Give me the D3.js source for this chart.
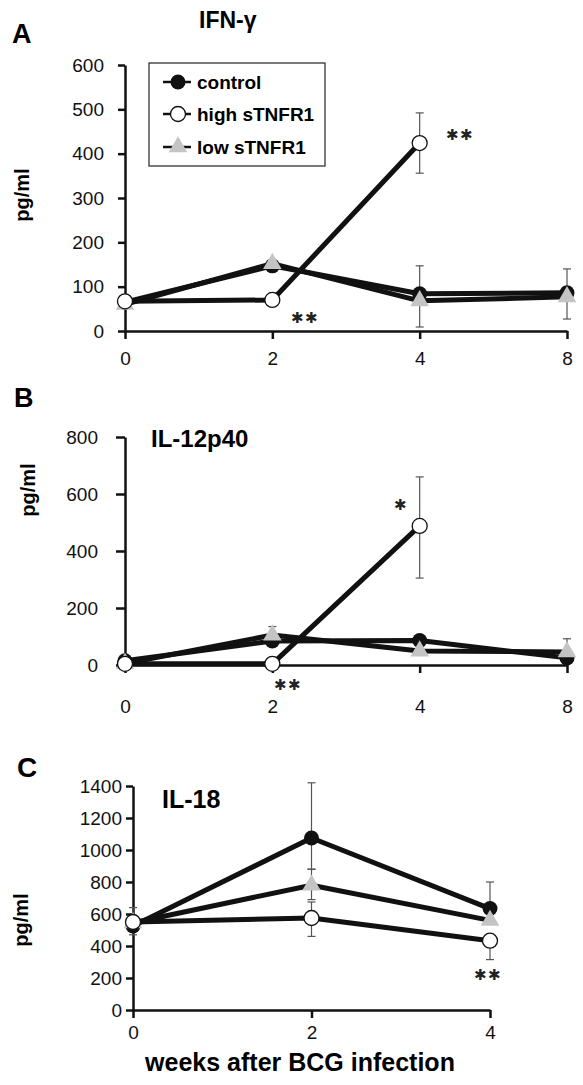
<!DOCTYPE html>
<html><head><meta charset="utf-8">
<script src="https://cdn.jsdelivr.net/npm/d3@7/dist/d3.min.js"></script>
<style>body{margin:0;background:#fff}svg{display:block}text{font-family:"Liberation Sans",Arial,sans-serif}</style>
</head><body><svg id="c" width="583" height="1085"></svg>
<script>
// ---- data ----
const weeksAB = ["0", "2", "4", "8"];
const weeksC = ["0", "2", "4"];
const seriesNames = ["control", "high sTNFR1", "low sTNFR1"];

const ifnTicks = [0, 100, 200, 300, 400, 500, 600];
const ifnControl = [65, 147, 84, 86];
const ifnHigh = [67, 70, 424, null];
const ifnLow = [60, 152, 68, 77];
const ifnErrControl = [null, null, [9, 147], [27, 140]];
const ifnErrHigh = [null, null, [356, 492], null];
const ifnErrLow = [null, null, null, null];

const il12Ticks = [0, 200, 400, 600, 800];
const il12Control = [15, 84, 86, 25];
const il12High = [4, 4, 488, null];
const il12Low = [5, 105, 49, 46];
const il12ErrControl = [null, null, null, null];
const il12ErrHigh = [null, null, [305, 660], null];
const il12ErrLow = [null, [80, 135], null, [20, 92]];

const il18Ticks = [0, 200, 400, 600, 800, 1000, 1200, 1400];
const il18Control = [525, 1075, 634];
const il18High = [550, 575, 433];
const il18Low = [545, 780, 560];
const il18ErrControl = [[470, 640], [880, 1420], [540, 800]];
const il18ErrHigh = [null, [460, 675], [315, 440]];
const il18ErrLow = [null, [690, 880], null];

// ---- drawing ----
const svg = d3.select("#c");
const F = '"Liberation Sans",Arial,sans-serif';

const panels = [
  { letter: "A", title: "IFN-γ", cats: weeksAB, ticks: ifnTicks,
    data: [ifnControl, ifnHigh, ifnLow], err: [ifnErrControl, ifnErrHigh, ifnErrLow],
    x0: 125, x1: 567, y0: 331, y1: 65, gap: 21, tickLen: 7,
    letterPos: [12, 43, 27], titlePos: [199, 28, 23], xLabelTop: 352, yLabelY: 195, yLabelX: 29,
    stars: [{t: "**", x: 446, y: 140}, {t: "**", x: 291, y: 323}] },
  { letter: "B", title: "IL-12p40", cats: weeksAB, ticks: il12Ticks,
    data: [il12Control, il12High, il12Low], err: [il12ErrControl, il12ErrHigh, il12ErrLow],
    x0: 125, x1: 567, y0: 665, y1: 437, gap: 27, tickLen: 9,
    letterPos: [14, 407, 27], titlePos: [151, 447, 24], xLabelTop: 700, yLabelY: 490, yLabelX: 35,
    stars: [{t: "*", x: 394, y: 510}, {t: "**", x: 274, y: 690}] },
  { letter: "C", title: "IL-18", cats: weeksC, ticks: il18Ticks,
    data: [il18Control, il18High, il18Low], err: [il18ErrControl, il18ErrHigh, il18ErrLow],
    x0: 133, x1: 490, y0: 1010, y1: 786, gap: 11, tickLen: 7,
    letterPos: [17, 777, 28], titlePos: [162, 808, 25], xLabelTop: 1026, yLabelY: 920, yLabelX: 28,
    stars: [{t: "**", x: 474, y: 980}] }
];

function marker(g, type, cx, cy) {
  if (type === 0) {
    g.append("circle").attr("cx", cx).attr("cy", cy).attr("r", 7.5).attr("fill", "#111");
  } else if (type === 1) {
    g.append("circle").attr("cx", cx).attr("cy", cy).attr("r", 7.5).attr("fill", "#fff")
      .attr("stroke", "#111").attr("stroke-width", 1.3);
  } else {
    g.append("path").attr("transform", `translate(${cx},${cy})`)
      .attr("d", d3.symbol(d3.symbolTriangle, 150)()).attr("fill", "#c4c4c4");
  }
}

panels.forEach(p => {
  const g = svg.append("g");
  const x = d3.scalePoint().domain(p.cats).range([p.x0, p.x1]);
  const ymax = p.ticks[p.ticks.length - 1];
  const y = d3.scaleLinear().domain([0, ymax]).range([p.y0, p.y1]);

  // letter & title
  g.append("text").attr("x", p.letterPos[0]).attr("y", p.letterPos[1]).attr("font-size", p.letterPos[2])
    .attr("font-weight", "bold").text(p.letter);
  g.append("text").attr("x", p.titlePos[0]).attr("y", p.titlePos[1]).attr("font-size", p.titlePos[2])
    .attr("font-weight", "bold").text(p.title);

  // y axis
  const ya = g.append("g").attr("transform", `translate(${p.x0},0)`)
    .call(d3.axisLeft(y).tickValues(p.ticks).tickFormat(d3.format("d")).tickSize(p.tickLen)
      .tickSizeOuter(0).tickPadding(p.gap - p.tickLen));
  ya.select(".domain").attr("stroke", "#111").attr("stroke-width", 2.5);
  ya.selectAll(".tick line").attr("stroke", "#111").attr("stroke-width", 2.5);
  ya.selectAll(".tick text").attr("font-size", 19).attr("font-family", F).attr("fill", "#111");

  // x axis
  const xa = g.append("g").attr("transform", `translate(0,${p.y0})`)
    .call(d3.axisBottom(x).tickSize(8).tickSizeOuter(0).tickPadding(p.xLabelTop - p.y0 - 8));
  xa.select(".domain").attr("stroke", "#111").attr("stroke-width", 2.5);
  xa.selectAll(".tick line").attr("stroke", "#111").attr("stroke-width", 2.5);
  xa.selectAll(".tick text").attr("font-size", 19).attr("font-family", F).attr("fill", "#111");

  // y label
  g.append("text").attr("transform", `translate(${p.yLabelX},${p.yLabelY}) rotate(-90)`)
    .attr("text-anchor", "middle").attr("font-size", 20).attr("font-weight", "bold").text("pg/ml");

  // error bars
  p.err.forEach(es => es.forEach((e, i) => {
    if (!e) return;
    const cx = x(p.cats[i]);
    g.append("line").attr("x1", cx).attr("x2", cx).attr("y1", y(e[0])).attr("y2", y(e[1]))
      .attr("stroke", "#555").attr("stroke-width", 1.2);
    [e[0], e[1]].forEach(v => g.append("line").attr("x1", cx - 4).attr("x2", cx + 4)
      .attr("y1", y(v)).attr("y2", y(v)).attr("stroke", "#555").attr("stroke-width", 1.2));
  }));

  // lines (control, low, high order)
  const order = [0, 2, 1];
  const line = d3.line().defined(d => d.v != null).x(d => x(d.c)).y(d => y(d.v));
  order.forEach(s => {
    const pts = p.data[s].map((v, i) => ({c: p.cats[i], v}));
    g.append("path").attr("d", line(pts)).attr("fill", "none").attr("stroke", "#111")
      .attr("stroke-width", 5).attr("stroke-linejoin", "round");
  });
  order.forEach(s => {
    p.data[s].forEach((v, i) => { if (v != null) marker(g, s, x(p.cats[i]), y(v)); });
  });

  // significance stars
  p.stars.forEach(s => g.append("text").attr("x", s.x).attr("y", s.y).attr("font-size", 15)
    .attr("fill", "#222").attr("letter-spacing", 1).text(s.t.replace(/\*/g, "✱")));
});

// legend (panel A)
const lg = svg.append("g");
lg.append("rect").attr("x", 149).attr("y", 63).attr("width", 176).attr("height", 103)
  .attr("fill", "#fff").attr("stroke", "#222").attr("stroke-width", 1.2);
const legY = [82, 114, 147];
seriesNames.forEach((n, i) => {
  lg.append("line").attr("x1", 163).attr("x2", 191).attr("y1", legY[i]).attr("y2", legY[i])
    .attr("stroke", "#111").attr("stroke-width", 2.5);
  marker(lg, i, 178, legY[i]);
  lg.append("text").attr("x", 197).attr("y", legY[i] + 7).attr("font-size", 19).attr("font-weight", "bold").text(n);
});

// x title
svg.append("text").attr("x", 300).attr("y", 1071).attr("text-anchor", "middle").attr("font-size", 25)
  .attr("font-weight", "bold").text("weeks after BCG infection");
</script></body></html>
